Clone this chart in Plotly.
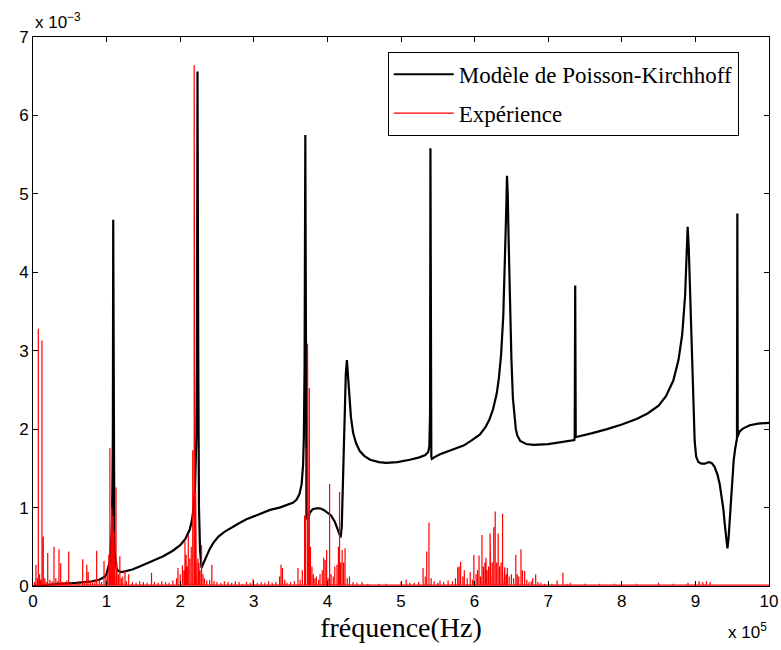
import plotly.graph_objects as go

# Model (Poisson-Kirchhoff) curve, x in 1e5 Hz, y in 1e-3
black_x = [0.0, 0.2, 0.41, 0.6, 0.8, 0.9, 0.95, 0.98, 1.0, 1.02, 1.04, 1.05, 1.06, 1.07,
           1.075, 1.08, 1.085, 1.09,
           1.095, 1.10, 1.105, 1.11, 1.12, 1.13, 1.15, 1.18, 1.22, 1.28, 1.35, 1.45, 1.6,
           1.77, 1.9, 2.0, 2.07, 2.13, 2.16, 2.18, 2.2, 2.21, 2.22, 2.228, 2.235, 2.245,
           2.255, 2.27, 2.29, 2.32, 2.36, 2.4, 2.45, 2.52, 2.6, 2.7, 2.8, 2.9, 3.0,
           3.1, 3.22, 3.35, 3.45, 3.53, 3.58, 3.62, 3.65, 3.67, 3.68, 3.69, 3.70, 3.708,
           3.715, 3.725, 3.74, 3.76, 3.8, 3.85, 3.9, 3.95, 4.0, 4.05, 4.1, 4.13, 4.16,
           4.18, 4.195, 4.21, 4.23, 4.25, 4.265, 4.28, 4.3, 4.32, 4.35, 4.39, 4.44, 4.5,
           4.58, 4.7, 4.8, 4.95, 5.12, 5.25, 5.33, 5.37, 5.385, 5.395,
           5.40, 5.405, 5.412, 5.42, 5.45, 5.53, 5.65, 5.75, 5.85, 5.95, 6.07, 6.15, 6.2,
           6.25, 6.3, 6.33, 6.36, 6.39, 6.41, 6.43, 6.44, 6.45, 6.465, 6.48, 6.5, 6.52,
           6.54, 6.56, 6.58, 6.62, 6.7, 6.8, 7.0, 7.2, 7.355, 7.36, 7.367, 7.374, 7.38, 7.6,
           7.8, 8.0, 8.2, 8.35, 8.5, 8.6, 8.7, 8.77, 8.82, 8.86, 8.88, 8.895, 8.91, 8.93,
           8.95, 8.97, 8.99, 9.01, 9.04, 9.08, 9.13, 9.18, 9.22, 9.26, 9.3, 9.33, 9.36,
           9.38, 9.40, 9.42, 9.435, 9.45, 9.47, 9.49, 9.52, 9.54, 9.56, 9.565, 9.57,
           9.575, 9.58, 9.6, 9.65, 9.74, 9.85, 10.0]
black_y = [0.0, 0.01, 0.03, 0.04, 0.06, 0.08, 0.1, 0.12, 0.16, 0.22, 0.3, 0.38, 0.5, 0.7,
           0.9, 1.2, 1.9, 4.67,
           2.0, 0.87, 0.6, 0.42, 0.3, 0.24, 0.2, 0.18, 0.18, 0.19, 0.21, 0.25, 0.31,
           0.38, 0.45, 0.52, 0.6, 0.72, 0.84, 0.98, 1.2, 1.45, 1.9, 2.8, 6.56, 3.0,
           1.0, 0.45, 0.23, 0.3, 0.39, 0.47, 0.55, 0.63, 0.69, 0.75, 0.8, 0.85, 0.89,
           0.93, 0.97, 1.0, 1.03, 1.06, 1.1, 1.17, 1.3, 1.55, 1.9, 2.8, 5.75, 2.0,
           1.2, 0.85, 0.86, 0.93, 0.98, 0.99, 0.99, 0.97, 0.94, 0.9, 0.82, 0.75, 0.66,
           0.62, 0.75, 1.3, 2.2, 2.7, 2.88, 2.7, 2.4, 2.15, 1.95, 1.82, 1.72, 1.66,
           1.61, 1.58, 1.57, 1.58, 1.61, 1.64, 1.67, 1.71, 1.78, 2.2,
           5.58, 2.0, 1.65, 1.62, 1.64, 1.68, 1.72, 1.75, 1.79, 1.85, 1.93, 2.03, 2.12,
           2.25, 2.45, 2.65, 2.95, 3.45, 4.0, 4.8, 5.23, 5.0, 4.3, 3.6, 2.9, 2.4,
           2.15, 2.0, 1.92, 1.85, 1.81, 1.8, 1.81, 1.84, 1.86, 1.9, 3.83, 1.92, 1.9, 1.95,
           2.0, 2.06, 2.13, 2.2, 2.3, 2.42, 2.62, 2.88, 3.2, 3.7, 4.15, 4.58, 4.3, 3.7,
           3.0, 2.3, 1.85, 1.65, 1.58, 1.56, 1.56, 1.58, 1.57, 1.52, 1.42, 1.3, 1.14,
           0.98, 0.78, 0.58, 0.48, 0.6, 0.93, 1.25, 1.6, 1.75, 1.86, 1.88, 4.75,
           1.9, 1.92, 1.97, 2.01, 2.05, 2.07, 2.08]

# Experiment spectrum: spike positions (1e5 Hz) and heights (1e-3)
red_peak_x = [0.02, 0.04, 0.06, 0.072, 0.09, 0.105, 0.122, 0.14, 0.16, 0.18, 0.2, 0.23,
              0.26, 0.285, 0.31, 0.333, 0.353, 0.376, 0.40, 0.43, 0.46, 0.485, 0.52,
              0.56, 0.6, 0.63, 0.675, 0.70, 0.73, 0.75, 0.78, 0.81, 0.84, 0.865, 0.9,
              0.93, 0.965, 0.99, 1.01, 1.03, 1.045, 1.06, 1.07, 1.08, 1.09, 1.10, 1.11,
              1.128, 1.14, 1.16, 1.18, 1.2, 1.22, 1.25, 1.27, 1.3, 1.35, 1.4, 1.45, 1.5,
              1.55, 1.61, 1.65, 1.7, 1.75, 1.8, 1.85, 1.9, 1.95, 1.97, 2.0, 2.03, 2.05,
              2.065, 2.08, 2.095, 2.11, 2.13, 2.15, 2.17, 2.19, 2.20, 2.21, 2.22, 2.24,
              2.255, 2.27, 2.29, 2.31, 2.33, 2.36, 2.4, 2.43, 2.46, 2.5, 2.55, 2.6, 2.65,
              2.7, 2.75, 2.8, 2.85, 2.9, 2.95, 2.99, 3.05, 3.1, 3.15, 3.2, 3.25, 3.3,
              3.35, 3.37, 3.39, 3.42, 3.45, 3.5, 3.55, 3.6, 3.63, 3.66, 3.69, 3.705,
              3.73, 3.74, 3.755, 3.77, 3.79, 3.81, 3.83, 3.85, 3.88, 3.9, 3.93, 3.95,
              3.97, 3.99, 4.01, 4.03, 4.05, 4.08, 4.1, 4.13, 4.15, 4.165, 4.18, 4.2,
              4.22, 4.24, 4.27, 4.3, 4.35, 4.4, 4.47, 4.55, 4.6, 4.7, 4.8, 4.9, 5.0,
              5.07, 5.12, 5.18, 5.24, 5.3, 5.33, 5.35, 5.38, 5.41, 5.45, 5.5, 5.53,
              5.58, 5.64, 5.7, 5.74, 5.77, 5.79, 5.81, 5.84, 5.86, 5.9, 5.94, 5.97,
              5.99, 6.02, 6.04, 6.06, 6.08, 6.10, 6.12, 6.14, 6.155, 6.17, 6.19, 6.21,
              6.22, 6.24, 6.26, 6.28, 6.30, 6.32, 6.34, 6.36, 6.38, 6.40, 6.41, 6.43,
              6.445, 6.47, 6.5, 6.53, 6.56, 6.58, 6.6, 6.63, 6.65, 6.68, 6.71, 6.74,
              6.77, 6.79, 6.83, 6.86, 6.9, 6.95, 7.0, 7.05, 7.12, 7.2, 7.25, 7.3, 7.4,
              7.5, 7.6, 7.7, 7.8, 7.9, 8.0, 8.1, 8.2, 8.4, 8.5, 8.6, 8.7, 8.8, 8.9,
              9.0, 9.05, 9.1, 9.15, 9.2, 9.3, 9.5, 9.8, 10.0]
red_peak_y = [0.05, 0.27, 0.1, 3.28, 0.15, 0.08, 3.13, 0.63, 0.1, 0.05, 0.42, 0.08,
              0.06, 0.5, 0.1, 0.06, 0.47, 0.29, 0.05, 0.04, 0.07, 0.44, 0.05,
              0.03, 0.06, 0.04, 0.34, 0.05, 0.27, 0.18, 0.06, 0.04, 0.07, 0.45, 0.08,
              0.05, 0.32, 0.1, 0.15, 0.4, 1.76, 0.8, 1.0, 0.6, 0.9, 0.7, 0.5,
              1.26, 0.3, 0.15, 0.38, 0.1, 0.12, 0.2, 0.06, 0.15, 0.05, 0.04, 0.06, 0.05,
              0.04, 0.17, 0.05, 0.04, 0.06, 0.05, 0.04, 0.07, 0.1, 0.23, 0.15, 0.26, 0.2,
              0.57, 0.4, 0.25, 0.65, 0.35, 0.5, 1.73, 6.64, 0.9, 1.2, 0.69, 0.35,
              0.3, 0.2, 0.52, 0.15, 0.1, 0.07, 0.08, 0.27, 0.06, 0.05, 0.04, 0.06, 0.05,
              0.04, 0.06, 0.05, 0.03, 0.05, 0.04, 0.09, 0.04, 0.05, 0.04, 0.06, 0.04, 0.05,
              0.12, 0.27, 0.23, 0.08, 0.04, 0.05, 0.06, 0.23, 0.08, 0.2, 0.9, 1.76,
              3.09, 0.7, 2.52, 0.5, 0.25, 0.15, 0.1, 0.12, 0.08, 0.15, 0.2, 0.36,
              0.33, 0.46, 0.1, 1.3, 0.15, 0.12, 0.25, 0.27, 0.5, 1.2, 0.3, 0.46,
              0.3, 0.48, 0.1, 0.12, 0.05, 0.04, 0.05, 0.03, 0.02, 0.03, 0.03, 0.02, 0.05,
              0.08, 0.04, 0.04, 0.05, 0.23, 0.12, 0.44, 0.81, 0.1, 0.06, 0.04, 0.07,
              0.05, 0.07, 0.06, 0.1, 0.24, 0.25, 0.31, 0.12, 0.2, 0.1, 0.18, 0.08,
              0.4, 0.15, 0.2, 0.39, 0.12, 0.65, 0.25, 0.3, 0.36, 0.2, 0.25, 0.67,
              0.2, 0.3, 0.75, 0.95, 0.3, 0.67, 0.25, 0.3, 0.92, 0.2, 0.24, 0.15,
              0.23, 0.12, 0.15, 0.1, 0.4, 0.15, 0.12, 0.47, 0.2, 0.19, 0.08, 0.05,
              0.06, 0.1, 0.15, 0.05, 0.04, 0.03, 0.02, 0.03, 0.07, 0.17, 0.03, 0.04, 0.02,
              0.03, 0.02, 0.03, 0.02, 0.03, 0.02, 0.02, 0.03, 0.02, 0.04, 0.02, 0.03, 0.02, 0.04,
              0.05, 0.06, 0.05, 0.06, 0.05, 0.02, 0.01, 0.01, 0.01]
red_floor = 0.01

x_ticks = list(range(0, 11))
y_ticks = list(range(0, 8))

# Build stem-like polyline for the experiment spectrum
red_x, red_y = [], []
for px, py in zip(red_peak_x, red_peak_y):
    red_x += [px, px, px]
    red_y += [red_floor, py, red_floor]

fig = go.Figure()
fig.add_trace(go.Scatter(x=black_x, y=black_y, mode="lines",
                         line=dict(color="black", width=2.2),
                         name="Modèle de Poisson-Kirchhoff", legendgroup="a"))
fig.add_trace(go.Scatter(x=red_x, y=red_y, mode="lines",
                         line=dict(color="#ff0000", width=1.2),
                         name="Expérience", legendgroup="b"))

axis_common = dict(showline=True, linecolor="black", linewidth=1, mirror="ticks",
                   ticks="inside", ticklen=5, tickcolor="black", showgrid=False,
                   zeroline=False, automargin=False,
                   tickfont=dict(family="Liberation Sans, Arial", size=17, color="black"))

fig.update_xaxes(range=[0, 10], tickvals=x_ticks, ticktext=[str(v) for v in x_ticks],
                 title=dict(text="fréquence(Hz)",
                            font=dict(family="Liberation Serif, serif", size=28, color="black"),
                            standoff=6),
                 **axis_common)
fig.update_yaxes(range=[0, 7], tickvals=y_ticks, ticktext=[str(v) for v in y_ticks],
                 **axis_common)

fig.update_layout(
    width=781, height=650,
    margin=dict(l=33, r=12, t=37, b=64, autoexpand=False),
    paper_bgcolor="white", plot_bgcolor="white",
    showlegend=True,
    legend=dict(x=0.482, y=0.973, xanchor="left", yanchor="top",
                bordercolor="black", borderwidth=1, bgcolor="white",
                font=dict(family="Liberation Serif, serif", size=23, color="black"),
                tracegroupgap=6, traceorder="grouped", itemwidth=60),
    annotations=[
        dict(text="x 10<sup>−3</sup>", xref="paper", yref="paper", x=0.0, y=1.03,
             xanchor="left", yanchor="middle", showarrow=False,
             font=dict(family="Liberation Sans, Arial", size=17, color="black")),
        dict(text="x 10<sup>5</sup>", xref="paper", yref="paper", x=1.0, y=-0.082,
             xanchor="right", yanchor="middle", showarrow=False,
             font=dict(family="Liberation Sans, Arial", size=17, color="black")),
    ],
)

fig.write_html("out.html", config={"displayModeBar": False},
               post_script="document.body.style.margin='0';document.body.style.overflow='hidden';")
